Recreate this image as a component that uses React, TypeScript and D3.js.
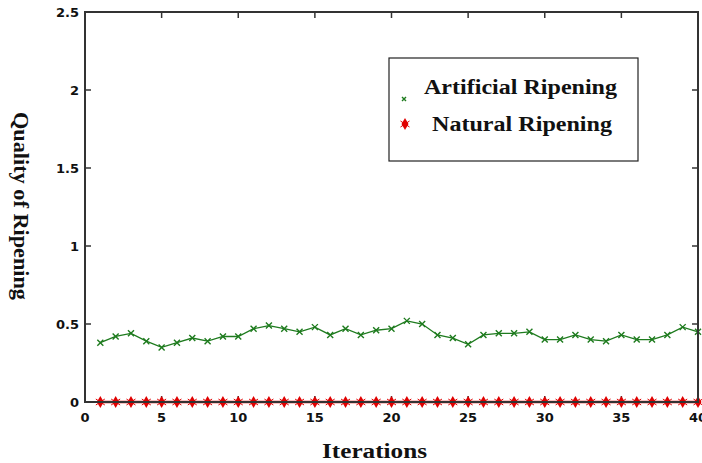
import React from "react";
import * as d3 from "d3";

const iterations = d3.range(1, 41);
const artificial = [
  0.38, 0.42, 0.44, 0.39, 0.35, 0.38, 0.41, 0.39, 0.42, 0.42,
  0.47, 0.49, 0.47, 0.45, 0.48, 0.43, 0.47, 0.43, 0.46, 0.47,
  0.52, 0.5, 0.43, 0.41, 0.37, 0.43, 0.44, 0.44, 0.45, 0.4,
  0.4, 0.43, 0.4, 0.39, 0.43, 0.4, 0.4, 0.43, 0.48, 0.45,
];
const natural = iterations.map(() => 0);
const xTicks = [0, 5, 10, 15, 20, 25, 30, 35, 40];
const yTicks = [0, 0.5, 1, 1.5, 2, 2.5];

const W = 702;
const H = 463;
const L = 85, R = 698, T = 12, B = 402;

const App = () => {
  const x = d3.scaleLinear().domain([0, 40]).range([L, R]);
  const y = d3.scaleLinear().domain([0, 2.5]).range([B, T]);
  const line = d3.line<number>().x((_, i) => x(iterations[i])).y((d) => y(d));
  const tickFont = "'DejaVu Sans', sans-serif";
  const labelFont = "'Liberation Serif', 'DejaVu Serif', serif";

  const cross = (cx: number, cy: number, s: number, color: string, key: any) => (
    <path
      key={key}
      d={`M${cx - s},${cy - s}L${cx + s},${cy + s}M${cx - s},${cy + s}L${cx + s},${cy - s}`}
      stroke={color}
      strokeWidth={1.4}
      fill="none"
    />
  );
  const star = (cx: number, cy: number, key: any) => (
    <g key={key}>
      <path d={`M${cx},${cy - 6}L${cx + 3.5},${cy}L${cx},${cy + 6}L${cx - 3.5},${cy}Z`} fill="#e00000" />
      <path d={`M${cx - 4.5},${cy - 3}L${cx + 4.5},${cy + 3}M${cx - 4.5},${cy + 3}L${cx + 4.5},${cy - 3}`} stroke="#e00000" strokeWidth={1} />
    </g>
  );

  return (
    <svg width={W} height={H} style={{ position: "absolute", left: 0, top: 0, background: "#fff" }}>
      <rect x={0} y={0} width={W} height={H} fill="#fff" />
      {xTicks.map((t) => (
        <g key={"xt" + t}>
          <line x1={x(t)} x2={x(t)} y1={B} y2={B - 6} stroke="#333" strokeWidth={1.5} />
          <line x1={x(t)} x2={x(t)} y1={T} y2={T + 6} stroke="#333" strokeWidth={1.5} />
          <text x={x(t)} y={B + 20} textAnchor="middle" fontFamily={tickFont} fontWeight="bold" fontSize={13} fill="#111">
            {t}
          </text>
        </g>
      ))}
      {yTicks.map((t) => (
        <g key={"yt" + t}>
          <line x1={L} x2={L + 6} y1={y(t)} y2={y(t)} stroke="#333" strokeWidth={1.5} />
          <line x1={R} x2={R - 6} y1={y(t)} y2={y(t)} stroke="#333" strokeWidth={1.5} />
          <text x={L - 6} y={y(t) + 5} textAnchor="end" fontFamily={tickFont} fontWeight="bold" fontSize={13} fill="#111">
            {t}
          </text>
        </g>
      ))}
      <path d={line(artificial) || ""} fill="none" stroke="#1e7b1e" strokeWidth={1.3} />
      {artificial.map((d, i) => cross(x(iterations[i]), y(d), 3, "#1e7b1e", "a" + i))}
      <path d={line(natural) || ""} fill="none" stroke="#e00000" strokeWidth={2.5} />
      {natural.map((d, i) => star(x(iterations[i]), y(d), "n" + i))}
      <rect x={L} y={T} width={R - L} height={B - T} fill="none" stroke="#333" strokeWidth={2} />
      <rect x={389} y={58} width={249} height={103} fill="#fff" stroke="#222" strokeWidth={1.2} />
      {cross(404, 99, 2, "#1e7b1e", "lg1")}
      {star(405, 124, "lg2")}
      <text x={424} y={94} fontFamily={labelFont} fontWeight="bold" fontSize={20} textLength={193} lengthAdjust="spacingAndGlyphs" fill="#111">
        Artificial Ripening
      </text>
      <text x={432} y={131} fontFamily={labelFont} fontWeight="bold" fontSize={20} textLength={180} lengthAdjust="spacingAndGlyphs" fill="#111">
        Natural Ripening
      </text>
      <text x={322} y={458} fontFamily={labelFont} fontWeight="bold" fontSize={20} textLength={105} lengthAdjust="spacingAndGlyphs" fill="#111">
        Iterations
      </text>
      <text
        transform="translate(14,112) rotate(90)"
        fontFamily={labelFont}
        fontWeight="bold"
        fontSize={20}
        textLength={188}
        lengthAdjust="spacingAndGlyphs"
        fill="#111"
      >
        Quality of Ripening
      </text>
    </svg>
  );
};

export default App;
